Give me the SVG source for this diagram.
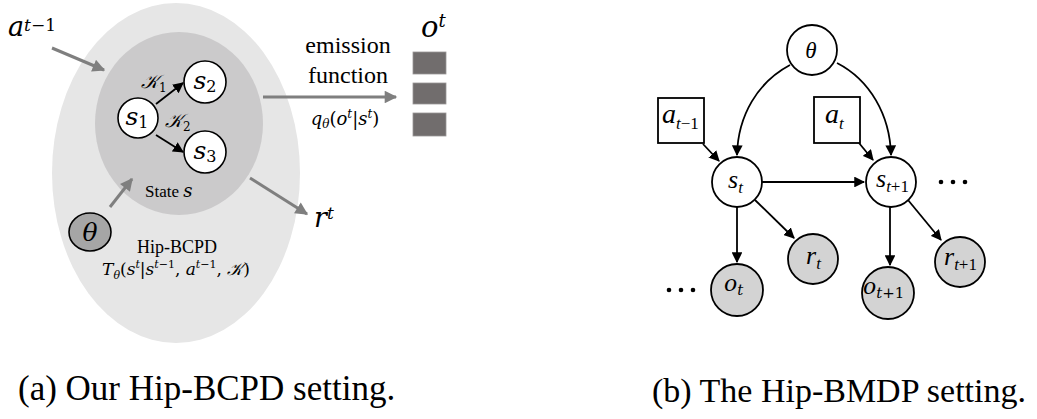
<svg xmlns="http://www.w3.org/2000/svg" width="1037" height="419" viewBox="0 0 1037 419">
  <style>
    .serif { font-family: "Liberation Serif", "Times New Roman", serif; fill: #000; }
    .math { font-family: "Liberation Serif", "Times New Roman", serif; font-style: italic; fill: #000; }
    .cm { font-family: "DejaVu Serif", "Liberation Serif", serif; font-style: italic; fill: #000; }
    .up { font-style: normal; }
    .gray-edge { stroke: #7f7f7f; stroke-width: 3; fill: none; }
    .edge { stroke: #000; stroke-width: 1.8; fill: none; }
    .state { fill: #fff; stroke: #000; stroke-width: 1.6; }
    .obs { fill: #d3d3d3; stroke: #000; stroke-width: 1.8; }
    .plain { fill: #fff; stroke: #000; stroke-width: 1.8; }
    .obs-box { fill: #716d6d; stroke: #9a9696; stroke-width: 0.8; }
  </style>
  <defs>
    <marker id="grayHead" viewBox="0 0 10 10" refX="9" refY="5" markerWidth="4.4" markerHeight="4.2" orient="auto" markerUnits="strokeWidth">
      <path d="M0,0 L10,5 L0,10 z" fill="#7f7f7f"/>
    </marker>
    <marker id="blackHead" viewBox="0 0 10 10" refX="9" refY="5" markerWidth="6" markerHeight="6" orient="auto" markerUnits="strokeWidth">
      <path d="M0,0 L10,5 L0,10 z" fill="#000"/>
    </marker>
  </defs>

  <!-- ============ (a) Hip-BCPD setting ============ -->
  <g id="hip-bcpd-region">
    <ellipse cx="176" cy="173" rx="124" ry="170" fill="#e6e6e6"/>
    <text class="serif" x="177" y="253" font-size="18" text-anchor="middle">Hip-BCPD</text>
    <text class="cm" x="176" y="275" font-size="17" text-anchor="middle">T<tspan font-size="11" dy="4">θ</tspan><tspan class="up" dy="-4">(</tspan>s<tspan font-size="11" dy="-7">t</tspan><tspan class="up" dy="7">|</tspan>s<tspan font-size="11" dy="-7">t<tspan class="up">−1</tspan></tspan><tspan class="up" dy="7">, </tspan>a<tspan font-size="11" dy="-7">t<tspan class="up">−1</tspan></tspan><tspan class="up" dy="7">, </tspan>𝒦<tspan class="up">)</tspan></text>
  </g>

  <g id="state-region">
    <ellipse cx="179" cy="123.5" rx="84" ry="91.5" fill="#cbcacb"/>
    <text class="serif" x="145" y="197" font-size="17">State <tspan class="cm" font-size="18">s</tspan></text>
  </g>

  <g id="s1">
    <circle class="state" cx="138" cy="118" r="20"/>
    <text class="cm" x="137" y="125" font-size="25" text-anchor="middle">s<tspan class="up" font-size="16" dy="3">1</tspan></text>
  </g>
  <g id="s2">
    <circle class="state" cx="205" cy="82" r="21"/>
    <text class="cm" x="205" y="89" font-size="25" text-anchor="middle">s<tspan class="up" font-size="16" dy="3">2</tspan></text>
  </g>
  <g id="s3">
    <circle class="state" cx="205" cy="152" r="21"/>
    <text class="cm" x="205" y="159" font-size="25" text-anchor="middle">s<tspan class="up" font-size="16" dy="3">3</tspan></text>
  </g>

  <g id="theta-a">
    <ellipse cx="90" cy="232" rx="21" ry="19" fill="#a6a6a6" stroke="#000" stroke-width="1.6"/>
    <text class="cm" x="90" y="241" font-size="25" text-anchor="middle">θ</text>
  </g>

  <g id="action-a">
    <text class="cm" x="8" y="36" font-size="27">a<tspan font-size="17" dy="-5">t<tspan class="up">−1</tspan></tspan></text>
  </g>

  <g id="reward-a">
    <text class="cm" x="314" y="227" font-size="27">r<tspan font-size="17" dy="-8">t</tspan></text>
  </g>

  <g id="observation-a">
    <text class="cm" x="421" y="37" font-size="29">o<tspan font-size="18" dy="-10">t</tspan></text>
    <rect class="obs-box" x="413" y="52" width="33" height="22"/>
    <rect class="obs-box" x="413" y="83" width="33" height="21"/>
    <rect class="obs-box" x="413" y="113" width="33" height="23"/>
  </g>

  <g id="emission-label">
    <text class="serif" x="348" y="53" font-size="24" text-anchor="middle">emission</text>
    <text class="serif" x="348" y="83" font-size="24" text-anchor="middle">function</text>
    <text class="cm" x="345" y="125" font-size="18" text-anchor="middle">q<tspan font-size="12" dy="3">θ</tspan><tspan class="up" dy="-3">(</tspan>o<tspan font-size="12" dy="-7">t</tspan><tspan class="up" dy="7">|</tspan>s<tspan font-size="12" dy="-7">t</tspan><tspan class="up" dy="7">)</tspan></text>
  </g>

  <g id="connectors-a">
    <line class="gray-edge" x1="52" y1="48" x2="104" y2="70" marker-end="url(#grayHead)"/>
    <line class="gray-edge" x1="110" y1="207" x2="132" y2="179" marker-end="url(#grayHead)"/>
    <line class="gray-edge" x1="250" y1="178" x2="307" y2="214" marker-end="url(#grayHead)"/>
    <line class="gray-edge" x1="263" y1="97" x2="396" y2="97" marker-end="url(#grayHead)"/>
    <line class="edge" x1="156" y1="104" x2="183" y2="83" stroke-width="1.4" marker-end="url(#blackHead)"/>
    <line class="edge" x1="156" y1="135" x2="183" y2="152" stroke-width="1.4" marker-end="url(#blackHead)"/>
    <text class="cm" x="141" y="88" font-size="19">𝒦<tspan class="up" font-size="12" dy="4">1</tspan></text>
    <text class="cm" x="165" y="127" font-size="19">𝒦<tspan class="up" font-size="12" dy="4">2</tspan></text>
  </g>

  <text class="serif" x="18" y="400" font-size="35">(a) Our Hip-BCPD setting.</text>

  <!-- ============ (b) Hip-BMDP setting ============ -->
  <g id="connectors-b">
    <path class="edge" d="M790,65 C758,82 738,115 737,155" marker-end="url(#blackHead)"/>
    <path class="edge" d="M837,63 C870,80 890,115 891,155" marker-end="url(#blackHead)"/>
    <line class="edge" x1="703" y1="144" x2="719" y2="161" marker-end="url(#blackHead)"/>
    <line class="edge" x1="859" y1="143" x2="873" y2="160" marker-end="url(#blackHead)"/>
    <line class="edge" x1="762" y1="182" x2="864" y2="182" marker-end="url(#blackHead)"/>
    <line class="edge" x1="737" y1="207" x2="737" y2="262" marker-end="url(#blackHead)"/>
    <line class="edge" x1="755" y1="200" x2="794" y2="238" marker-end="url(#blackHead)"/>
    <line class="edge" x1="890" y1="207" x2="890" y2="265" marker-end="url(#blackHead)"/>
    <line class="edge" x1="908" y1="200" x2="941" y2="240" marker-end="url(#blackHead)"/>
  </g>

  <g id="theta-b">
    <circle class="plain" cx="812" cy="50" r="25"/>
    <text class="math" x="811" y="58" font-size="23" text-anchor="middle">θ</text>
  </g>
  <g id="a-prev">
    <rect class="plain" x="658" y="98" width="46" height="45"/>
    <text class="math" x="662" y="123" font-size="28">a<tspan font-size="17" dy="6">t<tspan class="up">−1</tspan></tspan></text>
  </g>
  <g id="a-t">
    <rect class="plain" x="814" y="97" width="46" height="46"/>
    <text class="math" x="825" y="123" font-size="28">a<tspan font-size="17" dy="6">t</tspan></text>
  </g>
  <g id="s-t">
    <circle class="plain" cx="737" cy="182" r="25"/>
    <text class="math" x="728" y="188" font-size="26">s<tspan font-size="17" dy="5">t</tspan></text>
  </g>
  <g id="s-next">
    <circle class="plain" cx="891" cy="182" r="25"/>
    <text class="math" x="876" y="187" font-size="26">s<tspan font-size="17" dy="5">t<tspan class="up">+1</tspan></tspan></text>
  </g>
  <g id="o-t">
    <circle class="obs" cx="737" cy="290" r="26"/>
    <text class="cm" x="724" y="291" font-size="22">o<tspan font-size="15" dy="4">t</tspan></text>
  </g>
  <g id="r-t">
    <circle class="obs" cx="813" cy="259" r="25"/>
    <text class="math" x="806" y="264" font-size="26">r<tspan font-size="17" dy="5">t</tspan></text>
  </g>
  <g id="o-next">
    <circle class="obs" cx="888" cy="293" r="26"/>
    <text class="cm" x="863" y="294" font-size="22">o<tspan font-size="15" dy="4">t<tspan class="up">+1</tspan></tspan></text>
  </g>
  <g id="r-next">
    <circle class="obs" cx="960" cy="262" r="25"/>
    <text class="math" x="944" y="265" font-size="26">r<tspan font-size="17" dy="5">t<tspan class="up">+1</tspan></tspan></text>
  </g>

  <g id="ellipsis-b">
    <circle cx="941" cy="182" r="2.3" fill="#000"/>
    <circle cx="953" cy="182" r="2.3" fill="#000"/>
    <circle cx="965" cy="182" r="2.3" fill="#000"/>
    <circle cx="669" cy="290" r="2.3" fill="#000"/>
    <circle cx="681" cy="290" r="2.3" fill="#000"/>
    <circle cx="693" cy="290" r="2.3" fill="#000"/>
  </g>

  <text class="serif" x="652" y="402" font-size="34">(b) The Hip-BMDP setting.</text>
</svg>
